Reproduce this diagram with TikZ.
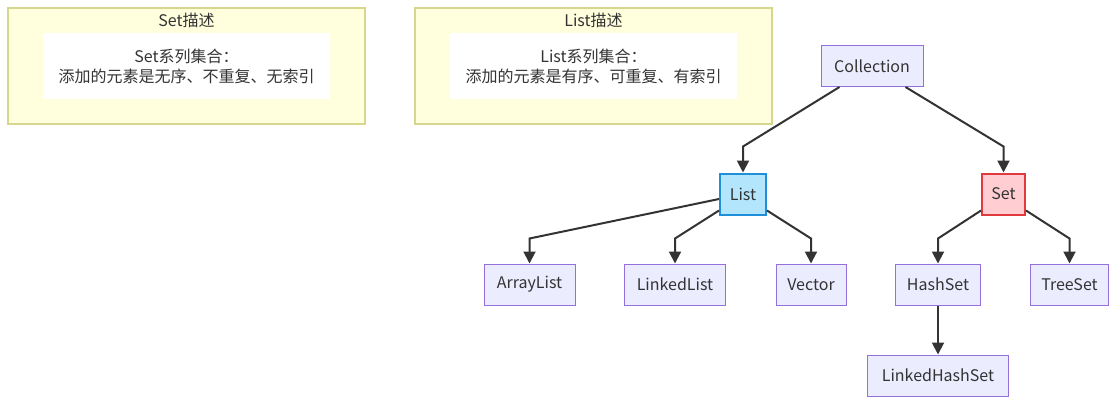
\documentclass[tikz,border=0pt]{standalone}
\usepackage{fontspec}
\setmainfont{Noto Sans CJK SC}
\usetikzlibrary{arrows.meta,calc}
\definecolor{nodefill}{HTML}{ECECFF}
\definecolor{nodeline}{HTML}{9370DB}
\definecolor{listfill}{HTML}{B3E5FC}
\definecolor{listline}{HTML}{1E8FD8}
\definecolor{setfill}{HTML}{FFCDD2}
\definecolor{setline}{HTML}{E0393E}
\definecolor{notefill}{HTML}{FFFFDE}
\definecolor{noteline}{HTML}{D6D68C}
\definecolor{ink}{HTML}{333333}
\begin{document}
\begin{tikzpicture}[x=0.75pt,y=-0.75pt,
	txt/.style={text=ink,font=\fontsize{12}{15}\selectfont},
	cls/.style={txt,draw=nodeline,fill=nodefill,line width=0.75pt,inner sep=0pt,minimum height=30.75pt,minimum width=#1*0.75pt},
	edge/.style={draw=ink,line width=1.5pt,-{Triangle[width=9pt,length=9pt]}},
	note/.style={draw=noteline,fill=notefill,line width=1.5pt,inner sep=0pt,minimum width=357*0.75pt,minimum height=116*0.75pt},
	notetext/.style={txt,fill=white,align=center,inner sep=0pt,minimum width=287*0.75pt,minimum height=66*0.75pt}]
	\useasboundingbox (0,0) rectangle (1116,404);
	%notes
	\node (setnote) at (186.5, 66) [note]{};
	\node (settitle) at (186.5, 20) [txt]{Set描述};
	\node (setdesc) at (186.5, 66) [notetext]{Set系列集合：\\添加的元素是无序、不重复、无索引};
	\node (listnote) at (593.5, 66) [note]{};
	\node (listtitle) at (593.5, 20) [txt]{List描述};
	\node (listdesc) at (593.5, 66) [notetext]{List系列集合：\\添加的元素是有序、可重复、有索引};
	
	%classes
	\node (coll) at (872, 66) [cls=102]{Collection};
	\node (list) at (743, 194) [cls=46, draw=listline, fill=listfill, line width=1.5pt]{List};
	\node (set) at (1003.5, 194) [cls=43, draw=setline, fill=setfill, line width=1.5pt]{Set};
	\node (arr) at (529.5, 284.5) [cls=91]{ArrayList};
	\node (lnk) at (675, 284.5) [cls=101]{LinkedList};
	\node (vec) at (811, 284.5) [cls=70]{Vector};
	\node (hs) at (938, 284.5) [cls=85]{HashSet};
	\node (ts) at (1069.5, 284.5) [cls=78]{TreeSet};
	\node (lhs) at (938, 375.5) [cls=141]{LinkedHashSet};
	
	%edges
	\draw[edge] ($(coll.south west)+(19,0)$) -- ($(list.north)+(0,-26)$) -- (list.north);
	\draw[edge] ($(coll.south east)+(-18,0)$) -- ($(set.north)+(0,-26)$) -- (set.north);
	\draw[edge] ($(list.west)+(0,5)$) -- ($(arr.north)+(0,-25)$) -- (arr.north);
	\draw[edge] ($(list.south west)+(0,-5)$) -- ($(lnk.north)+(0,-25)$) -- (lnk.north);
	\draw[edge] ($(list.south east)+(0,-5)$) -- ($(vec.north)+(0,-25)$) -- (vec.north);
	\draw[edge] ($(set.south west)+(0,-5)$) -- ($(hs.north)+(0,-25)$) -- (hs.north);
	\draw[edge] ($(set.south east)+(0,-5)$) -- ($(ts.north)+(0,-25)$) -- (ts.north);
	\draw[edge] (hs) -- (lhs);
\end{tikzpicture}
\end{document}
